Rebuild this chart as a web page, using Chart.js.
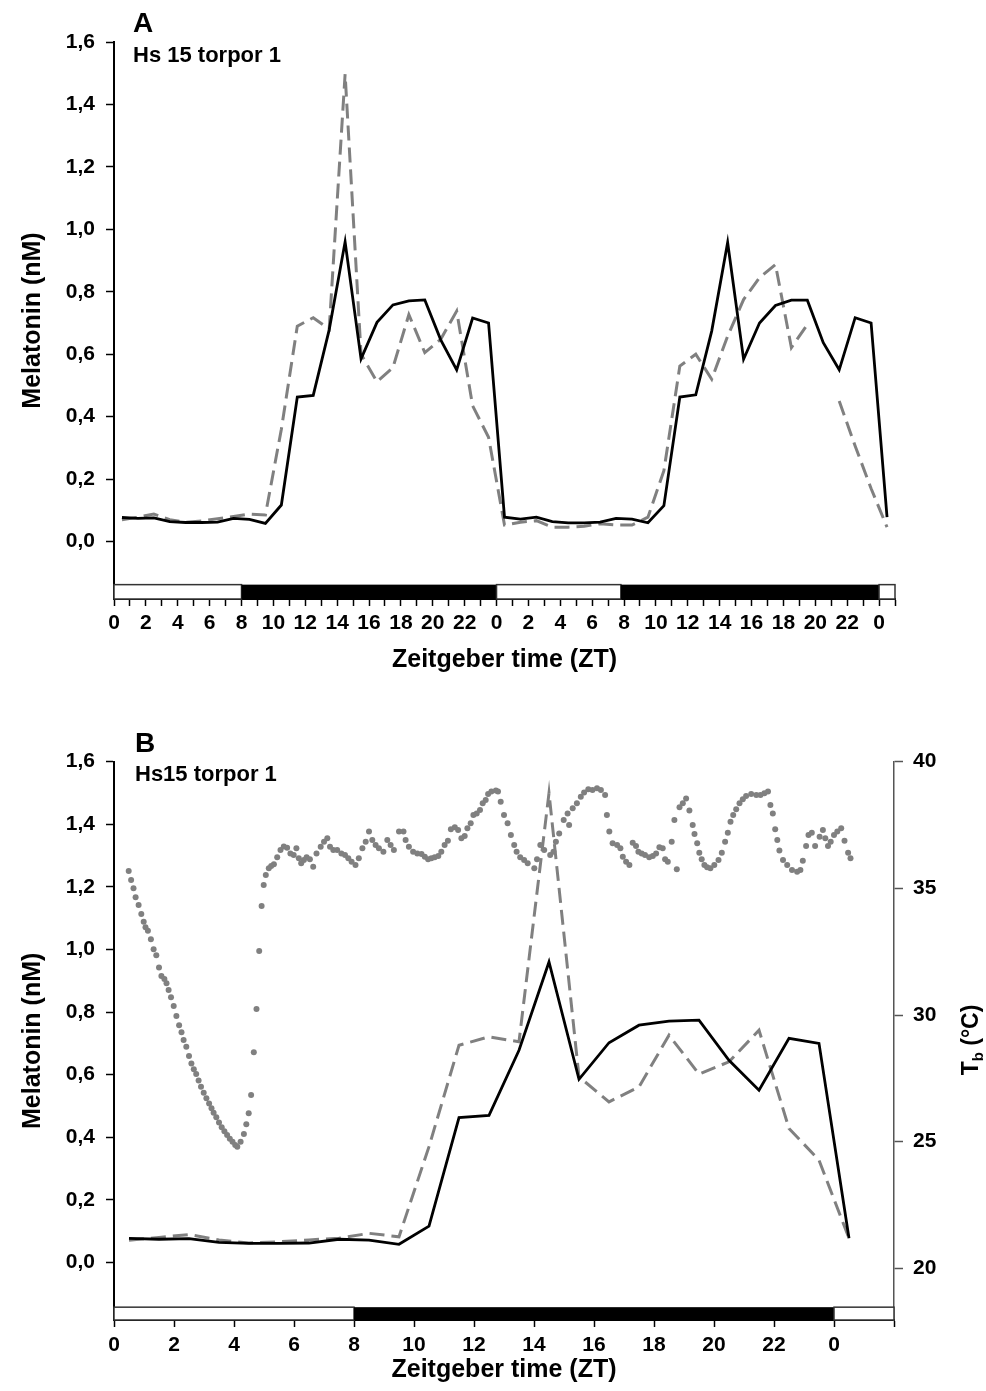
<!DOCTYPE html>
<html>
<head>
<meta charset="utf-8">
<script src="https://cdn.jsdelivr.net/npm/chart.js@4.4.1/dist/chart.umd.min.js"></script>
<style>
  body { margin: 0; background: #fff; }
  canvas { position: absolute; left: 0; }
  #chartA { top: 0; }
  #chartB { top: 690px; }
</style>
</head>
<body>
<canvas id="chartA" width="986" height="690"></canvas>
<canvas id="chartB" width="986" height="701"></canvas>
<script>
// sampling times (ZT hours)
const hoursA = [0.5, 1.5, 2.5, 3.5, 4.5, 5.5, 6.5, 7.5, 8.5, 9.5, 10.5, 11.5, 12.5, 13.5, 14.5, 15.5, 16.5, 17.5, 18.5, 19.5, 20.5, 21.5, 22.5, 23.5,
  24.5, 25.5, 26.5, 27.5, 28.5, 29.5, 30.5, 31.5, 32.5, 33.5, 34.5, 35.5, 36.5, 37.5, 38.5, 39.5, 40.5, 41.5, 42.5, 43.5, 44.5, 45.5, 46.5, 47.5, 48.5]
const hoursB = [0.5, 1.5, 2.5, 3.5, 4.5, 5.5, 6.5, 7.5, 8.5, 9.5, 10.5, 11.5, 12.5, 13.5, 14.5, 15.5, 16.5, 17.5, 18.5, 19.5, 20.5, 21.5, 22.5, 23.5, 24.5]

// melatonin (nM)
const solidA = [0.077, 0.074, 0.076, 0.064, 0.061, 0.061, 0.062, 0.074, 0.071, 0.058, 0.117, 0.463, 0.468, 0.678, 0.960, 0.585, 0.702, 0.758, 0.771, 0.774, 0.646, 0.550, 0.716, 0.700,
  0.078, 0.072, 0.078, 0.064, 0.060, 0.060, 0.062, 0.074, 0.072, 0.060, 0.115, 0.463, 0.470, 0.674, 0.958, 0.584, 0.700, 0.756, 0.773, 0.773, 0.637, 0.550, 0.717, 0.700, 0.078]
const dashedA = [0.070, 0.078, 0.088, 0.070, 0.062, 0.066, 0.073, 0.080, 0.088, 0.085, 0.360, 0.690, 0.717, 0.680, 1.497, 0.600, 0.512, 0.557, 0.727, 0.605, 0.648, 0.738, 0.435, 0.334,
  0.053, 0.062, 0.067, 0.046, 0.046, 0.049, 0.057, 0.053, 0.053, 0.078, 0.227, 0.562, 0.600, 0.520, 0.658, 0.775, 0.845, 0.887, 0.621, 0.695, null, 0.450, 0.306, 0.170, 0.046]
const solidB = [0.077, 0.074, 0.076, 0.064, 0.061, 0.061, 0.062, 0.074, 0.071, 0.058, 0.116, 0.463, 0.470, 0.678, 0.960, 0.585, 0.702, 0.758, 0.771, 0.774, 0.646, 0.550, 0.716, 0.700, 0.077]
const dashedB = [0.071, 0.080, 0.089, 0.072, 0.062, 0.066, 0.072, 0.077, 0.093, 0.082, 0.370, 0.694, 0.721, 0.705, 1.500, 0.593, 0.513, 0.561, 0.726, 0.602, 0.641, 0.742, 0.428, 0.327, 0.077]

// body temperature (°C)
const tbHour = [0.49, 0.57, 0.65, 0.72, 0.82, 0.91, 0.99, 1.05, 1.13, 1.23, 1.32, 1.41, 1.50, 1.58, 1.68, 1.75, 1.82, 1.90, 1.99, 2.08,
  2.17, 2.25, 2.32, 2.41, 2.50, 2.58, 2.66, 2.74, 2.82, 2.90, 2.99, 3.08, 3.17, 3.25, 3.32, 3.41, 3.50, 3.59, 3.68, 3.77,
  3.86, 3.95, 4.04, 4.11, 4.22, 4.33, 4.41, 4.49, 4.57, 4.66, 4.75, 4.84, 4.92, 4.99, 5.06, 5.16, 5.24, 5.33, 5.44, 5.55,
  5.66, 5.77, 5.88, 5.99, 6.08, 6.16, 6.24, 6.33, 6.42, 6.53, 6.64, 6.75, 6.89, 7.00, 7.11, 7.20, 7.31, 7.44, 7.58, 7.70,
  7.81, 7.92, 8.05, 8.16, 8.28, 8.39, 8.50, 8.61, 8.72, 8.83, 8.98, 9.11, 9.22, 9.33, 9.50, 9.65, 9.72, 9.83, 9.97, 10.11,
  10.25, 10.36, 10.47, 10.58, 10.69, 10.81, 10.91, 11.02, 11.13, 11.23, 11.36, 11.47, 11.58, 11.69, 11.78, 11.89, 11.98, 12.09, 12.20, 12.29,
  12.39, 12.47, 12.58, 12.73, 12.80, 12.89, 13.00, 13.12, 13.23, 13.34, 13.42, 13.54, 13.67, 13.79, 14.01, 14.10, 14.21, 14.34, 14.54, 14.65,
  14.73, 14.84, 14.99, 15.12, 15.17, 15.29, 15.43, 15.56, 15.67, 15.81, 15.95, 16.10, 16.23, 16.37, 16.43, 16.51, 16.62, 16.77, 16.88, 16.96,
  17.07, 17.18, 17.29, 17.40, 17.48, 17.59, 17.70, 17.84, 17.96, 18.07, 18.18, 18.29, 18.37, 18.46, 18.59, 18.68, 18.76, 18.85, 18.96, 19.07,
  19.18, 19.29, 19.35, 19.44, 19.51, 19.59, 19.68, 19.77, 19.88, 20.01, 20.15, 20.26, 20.37, 20.46, 20.55, 20.64, 20.74, 20.85, 20.96, 21.07,
  21.24, 21.41, 21.55, 21.68, 21.80, 21.88, 21.96, 22.04, 22.11, 22.18, 22.30, 22.44, 22.60, 22.77, 22.88, 22.96, 23.07, 23.15, 23.26, 23.37,
  23.52, 23.63, 23.71, 23.80, 23.89, 24.00, 24.11, 24.24, 24.35, 24.47, 24.55]
const tbTemp = [35.69, 35.33, 35.00, 34.65, 34.34, 33.99, 33.68, 33.46, 33.33, 32.99, 32.60, 32.36, 31.88, 31.54, 31.42, 31.25, 30.99, 30.70, 30.36, 29.96,
  29.60, 29.32, 29.01, 28.75, 28.38, 28.09, 27.86, 27.67, 27.41, 27.17, 26.93, 26.71, 26.51, 26.32, 26.14, 25.96, 25.76, 25.57, 25.41, 25.26,
  25.12, 25.00, 24.87, 24.80, 25.00, 25.30, 25.69, 26.12, 26.84, 28.53, 30.24, 32.53, 34.30, 35.13, 35.53, 35.79, 35.88, 35.95, 36.23, 36.51,
  36.65, 36.60, 36.38, 36.32, 36.58, 36.19, 35.99, 36.12, 36.23, 36.15, 35.85, 36.38, 36.64, 36.84, 36.98, 36.64, 36.51, 36.51, 36.38, 36.32,
  36.19, 36.05, 35.92, 36.19, 36.58, 36.84, 37.24, 36.91, 36.71, 36.58, 36.45, 36.91, 36.71, 36.51, 37.24, 37.24, 36.91, 36.64, 36.45, 36.38,
  36.36, 36.25, 36.15, 36.19, 36.23, 36.28, 36.45, 36.71, 36.88, 37.33, 37.41, 37.30, 36.98, 37.07, 37.37, 37.57, 37.90, 37.96, 38.09, 38.36,
  38.49, 38.72, 38.82, 38.86, 38.82, 38.42, 37.90, 37.57, 37.11, 36.71, 36.45, 36.23, 36.12, 35.99, 35.79, 36.15, 36.71, 36.51, 36.32, 36.45,
  36.84, 37.17, 37.70, 37.96, 37.50, 38.16, 38.36, 38.62, 38.78, 38.91, 38.88, 38.95, 38.88, 38.69, 37.90, 37.24, 36.78, 36.71, 36.58, 36.25,
  36.05, 35.92, 36.80, 36.67, 36.45, 36.38, 36.32, 36.23, 36.28, 36.38, 36.62, 36.58, 36.15, 36.05, 36.84, 37.70, 35.75, 38.20, 38.36, 38.55,
  38.07, 37.50, 37.15, 36.78, 36.41, 36.15, 35.92, 35.83, 35.79, 35.92, 36.12, 36.41, 36.84, 37.20, 37.63, 37.90, 38.12, 38.36, 38.52, 38.65,
  38.72, 38.69, 38.69, 38.75, 38.82, 38.29, 37.96, 37.33, 36.91, 36.49, 36.12, 35.92, 35.72, 35.66, 35.72, 36.09, 36.67, 37.11, 37.20, 36.67,
  37.04, 37.30, 36.98, 36.67, 36.84, 37.11, 37.24, 37.37, 36.88, 36.41, 36.19]

// ticks
const melTicks = [0, 0.2, 0.4, 0.6, 0.8, 1.0, 1.2, 1.4, 1.6]
const tbTicks = [20, 25, 30, 35, 40]
const ztTicksA = [0, 1, 2, 3, 4, 5, 6, 7, 8, 9, 10, 11, 12, 13, 14, 15, 16, 17, 18, 19, 20, 21, 22, 23, 24,
  25, 26, 27, 28, 29, 30, 31, 32, 33, 34, 35, 36, 37, 38, 39, 40, 41, 42, 43, 44, 45, 46, 47, 48, 49]
const ztTicksB = [0, 2, 4, 6, 8, 10, 12, 14, 16, 18, 20, 22, 24, 26]

// light / dark bar (ZT start, end, dark?)
const ldStartA = [0, 8, 24, 31.8, 48]
const ldEndA = [8, 24, 31.8, 48, 49]
const ldDarkA = [false, true, false, true, false]
const ldStartB = [0, 8, 24]
const ldEndB = [8, 24, 26]
const ldDarkB = [false, true, false]

Chart.defaults.font.family = "'Liberation Sans', Arial, sans-serif"
Chart.defaults.font.weight = 'bold'
Chart.defaults.color = '#000'

const GREY = '#808080'

const lightDark = {
  id: 'lightDark',
  beforeDatasetsDraw (chart, args, opts) {
    const { ctx } = chart
    const x = chart.scales.x
    const y = chart.scales.y
    const yTop = y.getPixelForValue(opts.top)
    const yBot = y.getPixelForValue(y.min)
    ctx.save()
    for (let i = 0; i < opts.starts.length; i++) {
      const x0 = x.getPixelForValue(opts.starts[i])
      const x1 = x.getPixelForValue(opts.ends[i])
      if (opts.dark[i]) {
        ctx.fillStyle = '#000'
        ctx.fillRect(x0, yTop, x1 - x0, yBot - yTop)
      } else {
        ctx.fillStyle = '#fff'
        ctx.fillRect(x0, yTop, x1 - x0, yBot - yTop)
        ctx.strokeStyle = '#333'
        ctx.lineWidth = 1.5
        ctx.strokeRect(x0, yTop, x1 - x0, yBot - yTop)
      }
    }
    ctx.restore()
  }
}

const panelText = {
  id: 'panelText',
  afterDraw (chart, args, opts) {
    const { ctx } = chart
    ctx.save()
    ctx.fillStyle = '#000'
    ctx.textBaseline = 'middle'
    ctx.textAlign = 'left'
    ctx.font = "bold 28px 'Liberation Sans', Arial, sans-serif"
    ctx.fillText(opts.letter, opts.x, opts.letterY)
    ctx.font = "bold 22px 'Liberation Sans', Arial, sans-serif"
    ctx.fillText(opts.sub, opts.x, opts.subY)
    if (opts.tb) {
      // right axis title, reads bottom to top
      const big = "bold 23px 'Liberation Sans', Arial, sans-serif"
      const small = "bold 15px 'Liberation Sans', Arial, sans-serif"
      ctx.font = big
      const wT = ctx.measureText('T').width
      const wC = ctx.measureText(' (°C)').width
      ctx.font = small
      const wb = ctx.measureText('b').width
      ctx.translate(opts.tb.x, opts.tb.y)
      ctx.rotate(-Math.PI / 2)
      ctx.textBaseline = 'alphabetic'
      let u = -(wT + wb + wC) / 2
      ctx.font = big
      ctx.fillText('T', u, 8)
      u += wT
      ctx.font = small
      ctx.fillText('b', u, 13)
      u += wb
      ctx.font = big
      ctx.fillText(' (°C)', u, 8)
    }
    ctx.restore()
  }
}

const fmtMel = v => v.toFixed(1).replace('.', ',')

function yMelAxis () {
  return {
    type: 'linear',
    position: 'left',
    min: -0.184,
    max: 1.6,
    afterBuildTicks: s => { s.ticks = melTicks.map(v => ({ value: v })) },
    afterFit: s => { s.width = 114 },
    ticks: { callback: v => fmtMel(v), padding: 11, font: { size: 21, weight: 'bold' }, color: '#000' },
    grid: { drawOnChartArea: false, tickLength: 8, color: '#000', tickWidth: 1.5 },
    border: { color: '#000', width: 2 },
    title: { display: true, text: 'Melatonin (nM)', font: { size: 25, weight: 'bold' }, padding: { top: 18, bottom: 0 }, color: '#000' }
  }
}

// ---- panel A ----
new Chart(document.getElementById('chartA'), {
  type: 'line',
  data: {
    datasets: [
      {
        data: hoursA.map((h, i) => ({ x: h, y: solidA[i] })),
        borderColor: '#000',
        borderWidth: 2.8,
        pointRadius: 0,
        tension: 0
      },
      {
        data: hoursA.map((h, i) => ({ x: h, y: dashedA[i] })),
        borderColor: GREY,
        borderWidth: 3,
        borderDash: [15, 7],
        pointRadius: 0,
        tension: 0
      }
    ]
  },
  options: {
    responsive: false,
    animation: false,
    events: [],
    layout: { padding: { top: 42, right: 91, left: 0, bottom: 0 } },
    plugins: {
      legend: { display: false },
      tooltip: { enabled: false },
      lightDark: { starts: ldStartA, ends: ldEndA, dark: ldDarkA, top: -0.138 },
      panelText: { letter: 'A', sub: 'Hs 15 torpor 1', x: 133, letterY: 24, subY: 56 }
    },
    scales: {
      x: {
        type: 'linear',
        min: 0,
        max: 49,
        afterBuildTicks: s => { s.ticks = ztTicksA.map(v => ({ value: v })) },
        afterFit: s => { s.height = 91 },
        ticks: {
          autoSkip: false,
          maxRotation: 0,
          padding: 5,
          font: { size: 21, weight: 'bold' },
          color: '#000',
          callback: v => (v % 2 === 0 && v <= 48) ? String(v % 24) : ''
        },
        grid: { drawOnChartArea: false, tickLength: 7, color: '#000', tickWidth: 1.5 },
        border: { color: '#000', width: 2 },
        title: { display: true, text: 'Zeitgeber time (ZT)', font: { size: 25, weight: 'bold' }, padding: { top: 0, bottom: 15 }, color: '#000' }
      },
      y: yMelAxis()
    }
  },
  plugins: [lightDark, panelText]
})

// ---- panel B ----
new Chart(document.getElementById('chartB'), {
  type: 'line',
  data: {
    datasets: [
      {
        data: hoursB.map((h, i) => ({ x: h, y: solidB[i] })),
        borderColor: '#000',
        borderWidth: 2.8,
        pointRadius: 0,
        tension: 0,
        yAxisID: 'y'
      },
      {
        data: hoursB.map((h, i) => ({ x: h, y: dashedB[i] })),
        borderColor: GREY,
        borderWidth: 3,
        borderDash: [15, 7],
        pointRadius: 0,
        tension: 0,
        yAxisID: 'y'
      },
      {
        data: tbHour.map((h, i) => ({ x: h, y: tbTemp[i] })),
        showLine: false,
        pointRadius: 3,
        pointBorderWidth: 0,
        pointBackgroundColor: GREY,
        yAxisID: 'y2'
      }
    ]
  },
  options: {
    responsive: false,
    animation: false,
    events: [],
    layout: { padding: { top: 71.7, right: 0, left: 0, bottom: 0 } },
    plugins: {
      legend: { display: false },
      tooltip: { enabled: false },
      lightDark: { starts: ldStartB, ends: ldEndB, dark: ldDarkB, top: -0.143 },
      panelText: { letter: 'B', sub: 'Hs15 torpor 1', x: 135, letterY: 54, subY: 85, tb: { x: 970, y: 350 } }
    },
    scales: {
      x: {
        type: 'linear',
        min: 0,
        max: 26,
        afterBuildTicks: s => { s.ticks = ztTicksB.map(v => ({ value: v })) },
        afterFit: s => { s.height = 71 },
        ticks: {
          autoSkip: false,
          maxRotation: 0,
          padding: 6,
          font: { size: 21, weight: 'bold' },
          color: '#000',
          callback: v => v <= 24 ? String(v % 24) : ''
        },
        grid: { drawOnChartArea: false, tickLength: 7, color: '#000', tickWidth: 1.5 },
        border: { color: '#000', width: 2 },
        title: { display: true, text: 'Zeitgeber time (ZT)', font: { size: 25, weight: 'bold' }, padding: { top: 0, bottom: 6 }, color: '#000' }
      },
      y: yMelAxis(),
      y2: {
        type: 'linear',
        position: 'right',
        min: 17.96,
        max: 40,
        afterBuildTicks: s => { s.ticks = tbTicks.map(v => ({ value: v })) },
        afterFit: s => { s.width = 92 },
        ticks: { padding: 10, font: { size: 21, weight: 'bold' }, color: '#000' },
        grid: { drawOnChartArea: false, tickLength: 9, color: '#555', tickWidth: 1.5 },
        border: { color: '#555', width: 1.5 }
      }
    }
  },
  plugins: [lightDark, panelText]
})
</script>
</body>
</html>
